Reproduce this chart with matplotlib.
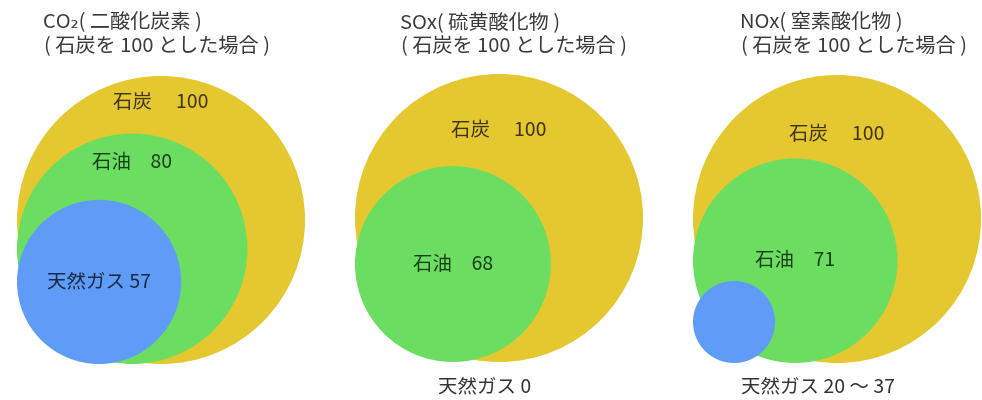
import matplotlib.pyplot as plt
from matplotlib.patches import Circle

plt.rcParams['font.family'] = ['Noto Sans CJK JP', 'DejaVu Sans']

# data (coal = 100)
gases = ['CO₂', 'SOx', 'NOx']
gas_names = ['二酸化炭素', '硫黄酸化物', '窒素酸化物']
coal = [100, 100, 100]
oil = [80, 68, 71]
natgas_low = [57, 0, 20]
natgas_high = [57, 0, 37]

# layout (pixel units, y downwards)
anchor_x = [17, 355, 693]      # common left edge of circles
anchor_y = [364, 362, 363]     # common bottom edge of circles
title_x = [43, 400, 740]
coal_label_y = [102, 130, 135]
oil_label_y = [162, 265, 260]
scale = 1.44                    # px radius per unit value

yellow = '#E5C82F'
green = '#6BDE62'
blue = '#5F9CF7'

fig = plt.figure(figsize=(9.82, 4.0), dpi=100)
ax = fig.add_axes([0, 0, 1, 1])
ax.set_xlim(0, 982)
ax.set_ylim(400, 0)
ax.axis('off')

fs = 14

for i in range(3):
    x0, y0 = anchor_x[i], anchor_y[i]
    gas_mid = (natgas_low[i] + natgas_high[i]) / 2
    circles = [(coal[i], yellow), (oil[i], green), (gas_mid, blue)]
    centers = []
    for val, col in circles:
        r = val * scale
        cx, cy = x0 + r, y0 - r
        centers.append((cx, cy))
        if r > 0:
            ax.add_patch(Circle((cx, cy), r, facecolor=col, edgecolor='none'))

    # titles
    ax.text(title_x[i], 23, f'{gases[i]}( {gas_names[i]} )', fontsize=14.5,
            color='#3a3a3a', va='center', ha='left')
    ax.text(title_x[i] + 1, 47, '( 石炭を 100 とした場合 )', fontsize=14.5,
            color='#3a3a3a', va='center', ha='left')

    # labels
    ax.text(centers[0][0], coal_label_y[i], f'石炭　 {coal[i]}', fontsize=fs,
            color='#3F3410', ha='center', va='center')
    ax.text(centers[1][0], oil_label_y[i], f'石油　{oil[i]}', fontsize=fs,
            color='#193F19', ha='center', va='center')
    if natgas_low[i] == natgas_high[i] and natgas_low[i] > 0:
        ax.text(centers[2][0], centers[2][1], f'天然ガス {natgas_low[i]}',
                fontsize=fs, color='#1A2945', ha='center', va='center')
    elif natgas_low[i] == natgas_high[i]:
        ax.text(centers[0][0] - 14, 387, f'天然ガス {natgas_low[i]}',
                fontsize=fs, color='#333333', ha='center', va='center')
    else:
        ax.text(centers[0][0] - 19, 387,
                f'天然ガス {natgas_low[i]} ～ {natgas_high[i]}',
                fontsize=fs, color='#333333', ha='center', va='center')

fig.savefig('out.png', dpi=100)
